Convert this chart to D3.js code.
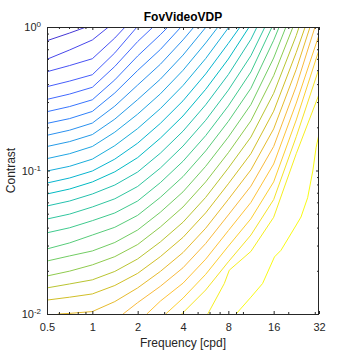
<!DOCTYPE html>
<html lang="en">
<head>
<meta charset="UTF-8">
<title>FovVideoVDP</title>
<script src="https://d3js.org/d3.v7.min.js"></script>
<style>
  body { margin: 0; background: #fff; }
  text { font-family: "Liberation Sans", Arial, sans-serif; }
</style>
</head>
<body>
<svg id="chart" width="354" height="354"></svg>
<script>
const freqTicks = [0.5, 1, 2, 4, 8, 16, 32];
const freqMinor = [0.6, 0.7, 0.8, 0.9, 3, 5, 6, 7, 9, 10, 20, 30];
const contrastTicks = [0.01, 0.1, 1];
const contrastMinor = [0.02, 0.03, 0.04, 0.05, 0.06, 0.07, 0.08, 0.09,
                       0.2, 0.3, 0.4, 0.5, 0.6, 0.7, 0.8, 0.9];

// contour lines, [frequency cpd, contrast], lowest level first
const contourLines = [
  [[0.5,0.803],[0.707,0.908],[0.91,1]],
  [[0.5,0.596],[0.707,0.692],[1,0.812],[1.28,1]],
  [[0.5,0.488],[0.707,0.539],[1,0.601],[1.41,0.838],[1.65,1]],
  [[0.5,0.384],[0.707,0.42],[1,0.465],[1.41,0.66],[1.98,1]],
  [[0.5,0.313],[0.707,0.341],[1,0.38],[1.41,0.531],[2,0.792],[2.53,1]],
  [[0.5,0.257],[0.707,0.279],[1,0.311],[1.41,0.428],[2,0.628],[2.83,0.884],[3.18,1]],
  [[0.5,0.213],[0.707,0.23],[1,0.258],[1.41,0.347],[2,0.498],[2.83,0.697],[3.88,1]],
  [[0.5,0.176],[0.707,0.191],[1,0.214],[1.41,0.281],[2,0.394],[2.83,0.55],[4,0.813],[4.73,1]],
  [[0.5,0.147],[0.707,0.159],[1,0.178],[1.41,0.228],[2,0.312],[2.83,0.433],[4,0.637],[5.69,1]],
  [[0.5,0.121],[0.707,0.131],[1,0.147],[1.41,0.185],[2,0.247],[2.83,0.342],[4,0.499],[5.66,0.774],[6.83,1]],
  [[0.5,0.0992],[0.707,0.107],[1,0.12],[1.41,0.149],[2,0.196],[2.83,0.27],[4,0.391],[5.66,0.603],[8.08,1]],
  [[0.5,0.0818],[0.707,0.0887],[1,0.0992],[1.41,0.12],[2,0.155],[2.83,0.213],[4,0.306],[5.66,0.471],[8,0.769],[9.57,1]],
  [[0.5,0.0686],[0.707,0.0743],[1,0.0832],[1.41,0.0979],[2,0.123],[2.83,0.168],[4,0.24],[5.66,0.368],[8,0.598],[11,1]],
  [[0.5,0.0566],[0.707,0.0613],[1,0.0686],[1.41,0.0792],[2,0.0976],[2.83,0.132],[4,0.188],[5.66,0.287],[8,0.466],[11.3,0.82],[12.4,1]],
  [[0.5,0.0459],[0.707,0.0497],[1,0.0557],[1.41,0.0635],[2,0.0774],[2.83,0.104],[4,0.148],[5.66,0.224],[8,0.363],[11.3,0.631],[14,1]],
  [[0.5,0.0368],[0.707,0.0399],[1,0.0447],[1.41,0.0506],[2,0.0613],[2.83,0.0823],[4,0.116],[5.66,0.175],[8,0.282],[11.3,0.486],[15.6,1]],
  [[0.5,0.0284],[0.707,0.0313],[1,0.0355],[1.41,0.0402],[2,0.0487],[2.83,0.065],[4,0.0907],[5.66,0.137],[8,0.22],[11.3,0.374],[16,0.808],[17.4,1]],
  [[0.5,0.0234],[0.707,0.0254],[1,0.0275],[1.41,0.0315],[2,0.0385],[2.83,0.0512],[4,0.071],[5.66,0.107],[8,0.171],[11.3,0.288],[16,0.608],[19.3,1]],
  [[0.5,0.0184],[0.707,0.0199],[1,0.022],[1.41,0.0251],[2,0.0305],[2.83,0.0404],[4,0.0557],[5.66,0.0833],[8,0.133],[11.3,0.222],[16,0.458],[21.5,1]],
  [[0.5,0.0152],[0.707,0.0162],[1,0.0173],[1.41,0.0198],[2,0.0242],[2.83,0.0318],[4,0.0436],[5.66,0.065],[8,0.104],[11.3,0.171],[16,0.345],[22.6,0.873],[23.6,1]],
  [[0.5,0.0125],[0.707,0.0131],[1,0.0138],[1.41,0.0158],[2,0.0192],[2.83,0.0251],[4,0.0342],[5.66,0.0507],[8,0.0808],[11.3,0.131],[16,0.259],[22.6,0.665],[25.9,1]],
  [[0.59,0.01],[0.707,0.0101],[1,0.0104],[1.41,0.0122],[2,0.0152],[2.83,0.0198],[4,0.0268],[5.66,0.0396],[8,0.0629],[11.3,0.101],[16,0.195],[22.6,0.507],[27.9,1]],
  [[1.6,0.01],[2,0.012],[2.83,0.0156],[4,0.021],[5.66,0.031],[8,0.049],[11.3,0.0778],[16,0.147],[22.6,0.387],[30.1,1]],
  [[2.3,0.01],[2.83,0.0123],[4,0.0164],[5.66,0.0241],[8,0.0381],[11.3,0.0599],[16,0.111],[22.6,0.295],[32,0.88]],
  [[3.07,0.01],[4,0.0129],[5.66,0.0189],[8,0.0297],[11.3,0.0461],[16,0.0833],[22.6,0.225],[32,0.692]],
  [[3.92,0.01],[5.66,0.0147],[8,0.0231],[11.3,0.0355],[16,0.0627],[22.6,0.172],[32,0.513]],
  [[5.84,0.01],[7.52,0.0163],[8.12,0.0202],[11.3,0.0273],[16,0.0472],[22.6,0.131],[32,0.339]],
  [[9,0.01],[11.3,0.0131],[13.5,0.0163],[16.2,0.025],[17.9,0.0278],[22.6,0.0417],[24.3,0.0474],[26.9,0.0646],[29.1,0.0992],[30.6,0.144],[32,0.18]]
];

// matlab parula, 64 entries
const parula = [
  [0.2422,0.1504,0.6603],[0.2504,0.1650,0.7076],[0.2578,0.1818,0.7511],[0.2647,0.1978,0.7952],
  [0.2706,0.2147,0.8364],[0.2751,0.2342,0.8710],[0.2783,0.2559,0.8991],[0.2803,0.2782,0.9221],
  [0.2813,0.3006,0.9414],[0.2810,0.3228,0.9579],[0.2795,0.3447,0.9717],[0.2760,0.3667,0.9829],
  [0.2699,0.3892,0.9906],[0.2602,0.4123,0.9952],[0.2440,0.4358,0.9988],[0.2206,0.4603,0.9973],
  [0.1963,0.4847,0.9892],[0.1834,0.5074,0.9798],[0.1786,0.5289,0.9682],[0.1764,0.5499,0.9520],
  [0.1687,0.5703,0.9359],[0.1540,0.5902,0.9218],[0.1460,0.6091,0.9079],[0.1380,0.6276,0.8973],
  [0.1248,0.6459,0.8883],[0.1113,0.6635,0.8763],[0.0952,0.6798,0.8598],[0.0689,0.6948,0.8394],
  [0.0297,0.7082,0.8163],[0.0036,0.7203,0.7917],[0.0067,0.7312,0.7660],[0.0433,0.7411,0.7394],
  [0.0964,0.7500,0.7120],[0.1408,0.7584,0.6842],[0.1717,0.7670,0.6554],[0.1938,0.7758,0.6251],
  [0.2161,0.7843,0.5923],[0.2470,0.7918,0.5567],[0.2906,0.7973,0.5188],[0.3406,0.8008,0.4789],
  [0.3909,0.8029,0.4354],[0.4456,0.8024,0.3909],[0.5044,0.7993,0.3480],[0.5616,0.7942,0.3045],
  [0.6174,0.7876,0.2612],[0.6720,0.7793,0.2227],[0.7242,0.7698,0.1910],[0.7738,0.7598,0.1646],
  [0.8203,0.7498,0.1535],[0.8634,0.7406,0.1596],[0.9035,0.7330,0.1774],[0.9393,0.7288,0.2100],
  [0.9728,0.7298,0.2394],[0.9956,0.7434,0.2371],[0.9970,0.7659,0.2199],[0.9952,0.7893,0.2028],
  [0.9892,0.8136,0.1885],[0.9786,0.8386,0.1766],[0.9676,0.8639,0.1643],[0.9610,0.8890,0.1537],
  [0.9597,0.9135,0.1423],[0.9628,0.9373,0.1265],[0.9691,0.9606,0.1064],[0.9769,0.9839,0.0805]
];

const svg = d3.select("#chart");
const margin = {top: 27, right: 35, bottom: 40, left: 47};
const width = +svg.attr("width") - margin.left - margin.right;
const height = +svg.attr("height") - margin.top - margin.bottom;
const axisColor = "#262626";

const x = d3.scaleLog().base(2).domain([0.5, 32]).range([0, width]);
const y = d3.scaleLog().domain([0.01, 1]).range([height, 0]);

const n = contourLines.length;
const color = i => {
    const c = parula[Math.round((0.07 + 0.93 * i / (n - 1)) * 63)];
    return d3.rgb(c[0] * 255, c[1] * 255, c[2] * 255).formatHex();
};

svg.append("rect").attr("width", 354).attr("height", 354).attr("fill", "#fff");

const g = svg.append("g")
    .attr("transform", `translate(${margin.left},${margin.top})`);

g.append("clipPath").attr("id", "plotClip")
  .append("rect").attr("width", width).attr("height", height);

const line = d3.line()
    .x(d => x(d[0]))
    .y(d => y(d[1]));

g.append("g")
    .attr("clip-path", "url(#plotClip)")
  .selectAll("path")
  .data(contourLines)
  .enter().append("path")
    .attr("fill", "none")
    .attr("stroke", (d, i) => color(i))
    .attr("stroke-width", 1)
    .attr("d", line);

// axes, ticks pointing inwards like matlab
function styleAxis(sel) {
    sel.attr("color", axisColor).attr("font-size", 11).attr("font-family", null);
    sel.select(".domain").remove();
}

g.append("g")
    .attr("transform", `translate(0,${height})`)
    .call(d3.axisBottom(x).tickValues(freqTicks).tickFormat(d => String(d))
        .tickSizeInner(-3).tickSizeOuter(0).tickPadding(9))
    .call(styleAxis);
g.append("g")
    .attr("transform", `translate(0,${height})`)
    .call(d3.axisBottom(x).tickValues(freqMinor).tickFormat("")
        .tickSizeInner(-2).tickSizeOuter(0))
    .call(styleAxis);
g.append("g")
    .call(d3.axisTop(x).tickValues(freqTicks).tickFormat("")
        .tickSizeInner(-3).tickSizeOuter(0))
    .call(styleAxis);
g.append("g")
    .call(d3.axisTop(x).tickValues(freqMinor).tickFormat("")
        .tickSizeInner(-2).tickSizeOuter(0))
    .call(styleAxis);

const yAxis = g.append("g")
    .call(d3.axisLeft(y).tickValues(contrastTicks)
        .tickSizeInner(-3).tickSizeOuter(0).tickPadding(6))
    .call(styleAxis);
yAxis.selectAll(".tick text").each(function(d) {
    const t = d3.select(this);
    t.text("10");
    t.append("tspan")
        .attr("dy", "-0.5em")
        .attr("font-size", 8)
        .text(Math.round(Math.log10(d)));
});
g.append("g")
    .call(d3.axisLeft(y).tickValues(contrastMinor).tickFormat("")
        .tickSizeInner(-2).tickSizeOuter(0))
    .call(styleAxis);
g.append("g")
    .attr("transform", `translate(${width},0)`)
    .call(d3.axisRight(y).tickValues(contrastTicks).tickFormat("")
        .tickSizeInner(-3).tickSizeOuter(0))
    .call(styleAxis);
g.append("g")
    .attr("transform", `translate(${width},0)`)
    .call(d3.axisRight(y).tickValues(contrastMinor).tickFormat("")
        .tickSizeInner(-2).tickSizeOuter(0))
    .call(styleAxis);

g.append("rect")
    .attr("x", 0.5).attr("y", 0.5)
    .attr("width", width - 1).attr("height", height)
    .attr("fill", "none")
    .attr("stroke", axisColor)
    .attr("stroke-width", 1);

g.append("text")
    .attr("x", width / 2).attr("y", height + 33)
    .attr("text-anchor", "middle")
    .attr("font-size", 12)
    .attr("fill", axisColor)
    .text("Frequency [cpd]");

g.append("text")
    .attr("transform", `translate(${-32},${height / 2}) rotate(-90)`)
    .attr("text-anchor", "middle")
    .attr("font-size", 12)
    .attr("fill", axisColor)
    .text("Contrast");

g.append("text")
    .attr("x", width / 2).attr("y", -6)
    .attr("text-anchor", "middle")
    .attr("font-size", 12)
    .attr("font-weight", "bold")
    .attr("fill", "#000")
    .text("FovVideoVDP");
</script>
</body>
</html>
